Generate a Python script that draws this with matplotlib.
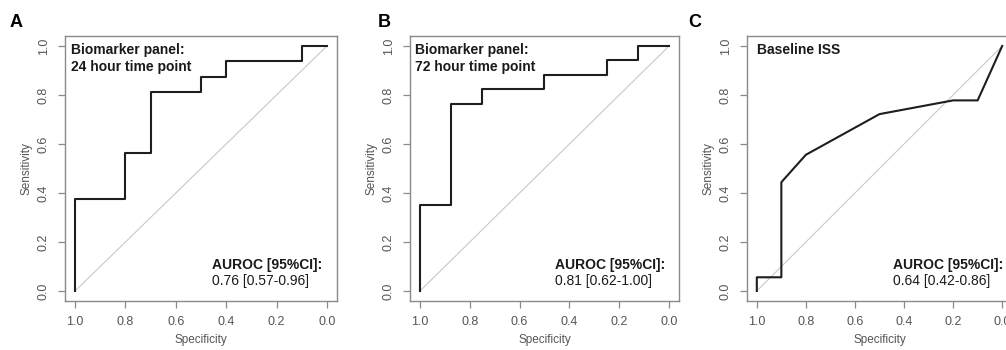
import matplotlib
matplotlib.use("Agg")
import matplotlib.pyplot as plt

plt.rcParams["font.family"] = ["Liberation Sans", "DejaVu Sans"]

# ROC curves: (specificity, sensitivity) pairs
spec_a = [1.0, 1.0, 0.8, 0.8, 0.7, 0.7, 0.5, 0.5, 0.4, 0.4, 0.1, 0.1, 0.0]
sens_a = [0.0, 0.375, 0.375, 0.5625, 0.5625, 0.8125, 0.8125, 0.875, 0.875,
          0.9375, 0.9375, 1.0, 1.0]

spec_b = [1.0, 1.0, 0.875, 0.875, 0.75, 0.75, 0.5, 0.5, 0.25, 0.25, 0.125,
          0.125, 0.0]
sens_b = [0.0, 0.353, 0.353, 0.765, 0.765, 0.824, 0.824, 0.882, 0.882, 0.941,
          0.941, 1.0, 1.0]

spec_c = [1.0, 1.0, 0.9, 0.9, 0.8, 0.5, 0.2, 0.1, 0.0]
sens_c = [0.0, 0.056, 0.056, 0.444, 0.556, 0.722, 0.778, 0.778, 1.0]

panel_letters = ["A", "B", "C"]
panel_titles = ["Biomarker panel:\n24 hour time point",
                "Biomarker panel:\n72 hour time point",
                "Baseline ISS"]
auroc_text = ["0.76 [0.57-0.96]", "0.81 [0.62-1.00]", "0.64 [0.42-0.86]"]
ticks = [0.0, 0.2, 0.4, 0.6, 0.8, 1.0]
tick_labels = ["0.0", "0.2", "0.4", "0.6", "0.8", "1.0"]

# axes boxes in figure pixels (left, width) -- the third panel runs off the right edge
W, H = 1006, 350
boxes = [(65, 272), (410, 269), (747, 265)]
title_x = [0.022, 0.019, 0.038]
auroc_x = [0.54, 0.539, 0.552]
letter_x = [10, 378, 688]

fig = plt.figure(figsize=(W / 100, H / 100), dpi=100)
fig.patch.set_facecolor("white")

frame_col = "#8a8a8a"
label_col = "#555555"

curves = [(spec_a, sens_a), (spec_b, sens_b), (spec_c, sens_c)]
for i, (spec, sens) in enumerate(curves):
    left, width = boxes[i]
    ax = fig.add_axes([left / W, 49.2 / H, width / W, 264.6 / H])
    ax.plot([1, 0], [0, 1], color="#c8c8c8", lw=0.8, zorder=1)
    ax.plot(spec, sens, color="#1e1e1e", lw=1.5, zorder=2)
    ax.set_xlim(1.04, -0.04)
    ax.set_ylim(-0.04, 1.04)

    ax.set_xticks(ticks)
    ax.set_xticklabels(tick_labels)
    ax.set_yticks(ticks)
    ax.set_yticklabels(tick_labels, rotation=90, va="center")
    ax.tick_params(axis="both", direction="out", length=5, width=0.9,
                   color=frame_col, labelcolor=label_col, labelsize=9)
    ax.tick_params(axis="x", pad=6)
    ax.tick_params(axis="y", pad=6)
    for sp in ax.spines.values():
        sp.set_color(frame_col)
        sp.set_linewidth(1.0)

    ax.set_xlabel("Specificity", fontsize=8.5, color=label_col, labelpad=4)
    ax.set_ylabel("Sensitivity", fontsize=8.5, color=label_col, labelpad=4)

    # title block: anchor its top just under the frame
    ax.text(title_x[i], 0.975, panel_titles[i], transform=ax.transAxes,
            fontsize=10, fontweight="bold", color="#1a1a1a",
            va="top", ha="left", linespacing=1.25)
    ax.text(auroc_x[i], 0.121, "AUROC [95%CI]:", transform=ax.transAxes,
            fontsize=10, fontweight="bold", color="#1a1a1a",
            va="baseline", ha="left")
    ax.text(auroc_x[i], 0.06, auroc_text[i], transform=ax.transAxes,
            fontsize=10, color="#1a1a1a", va="baseline", ha="left")

    fig.text(letter_x[i] / W, 1 - 27 / H, panel_letters[i], fontsize=13,
             fontweight="bold", color="black", va="baseline", ha="left")

fig.savefig("out.png", dpi=100, facecolor="white")
